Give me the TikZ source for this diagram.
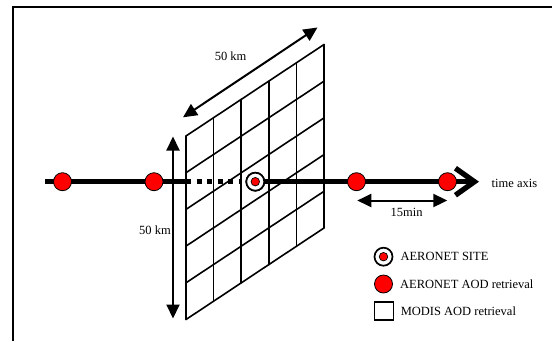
\documentclass[tikz,border=0pt]{standalone}
\usepackage{fontspec}
\setmainfont{Liberation Serif}
\usetikzlibrary{arrows.meta, positioning, calc}
\definecolor{aodred}{HTML}{FF0000}

\begin{document}
\begin{tikzpicture}[x=1pt, y=-1pt,
    txt/.style={inner sep=0pt, font=\fontsize{12.5}{14}\selectfont},
    gridline/.style={line width=1.6pt, line cap=round},
    timeline/.style={line width=5.3pt},
    dimarrow/.style={line width=2pt,
      {Triangle[length=14pt,width=13pt]}-{Triangle[length=14pt,width=13pt]}},
    aoddot/.style={circle, draw=black, line width=0.8pt, fill=aodred,
      minimum size=18pt, inner sep=0pt},
    sitering/.style={circle, draw=black, line width=1.7pt, fill=white,
      minimum size=18pt, inner sep=0pt},
    sitedot/.style={circle, draw=black, line width=0.7pt, fill=aodred,
      minimum size=8.5pt, inner sep=0pt},
    modisbox/.style={draw=black, line width=1.5pt, fill=white,
      minimum width=19pt, minimum height=18pt, inner sep=0pt}]
  \useasboundingbox (0,0) rectangle (552,341);
  % frame
  \draw[line width=2pt] (13,341) -- (13,6.5) -- (552,6.5);

  % MODIS grid (5 x 5 cells)
  \coordinate (gbl) at (186,319.5);
  \coordinate (gtl) at (186,136);
  \coordinate (gtr) at (324,44.5);
  \coordinate (gbr) at (324,228);
  \foreach \i in {0,...,5} {
    \draw[gridline] ($(gbl)!\i/5!(gbr)$) -- ($(gtl)!\i/5!(gtr)$);
    \draw[gridline] ($(gbl)!\i/5!(gtl)$) -- ($(gbr)!\i/5!(gtr)$);
  }

  % time axis
  \coordinate (tstart) at (45,181.7);
  \coordinate (dashstart) at (186,181.7);
  \coordinate (dashend) at (241,181.7);
  \coordinate (tend) at (479,181.7);
  \node[sitering] (site) at (255.3,181.7) {};
  \draw[timeline] (tstart) -- (dashstart);
  \draw[timeline, dash pattern=on 5pt off 5.5pt] (dashstart) -- (dashend);
  \draw[timeline, -{Straight Barb[length=19pt,width=27pt]}] (site) -- (tend);
  \node[sitering] at (site) {};
  \node[sitedot] (sitecore) at (site) {};
  \node[aoddot] (aod1) at (62.5,181.7) {};
  \node[aoddot] (aod2) at (154,181.7) {};
  \node[aoddot] (aod3) at (356.5,181.7) {};
  \node[aoddot] (aod4) at (447.5,181.7) {};
  \node[txt, anchor=west] (timelabel) at (491.5,183) {time axis};

  % 15 min spacing
  \coordinate (minl) at (357.3,200.5);
  \coordinate (minr) at (447.3,200.5);
  \draw[dimarrow] (minl) -- (minr);
  \node[txt] (minlabel) at (406.7,212) {15min};

  % 50 km extents
  \node[txt] (kmleft) at (155,230) {50 km};
  \coordinate (vtop) at (173,136.5);
  \coordinate (vbot) at (173,318.5);
  \draw[dimarrow] (vtop) -- (vbot);
  \node[txt] (kmtop) at (230.6,56) {50 km};
  \coordinate (dlow) at (183,117.3);
  \coordinate (dhigh) at (317.5,27.5);
  \draw[dimarrow] (dlow) -- (dhigh);

  % legend
  \node[sitering] (legsite) at (383.5,256.7) {};
  \node[sitedot] at (legsite) {};
  \node[aoddot] (legaod) at (383.5,284) {};
  \node[modisbox] (legmodis) at (383.8,311) {};
  \node[txt, right=7pt of legsite] (legsitetxt) {AERONET SITE};
  \node[txt, right=7pt of legaod] (legaodtxt) {AERONET AOD retrieval};
  \node[txt, right=6.5pt of legmodis] (legmodistxt) {MODIS AOD retrieval};
\end{tikzpicture}
\end{document}
